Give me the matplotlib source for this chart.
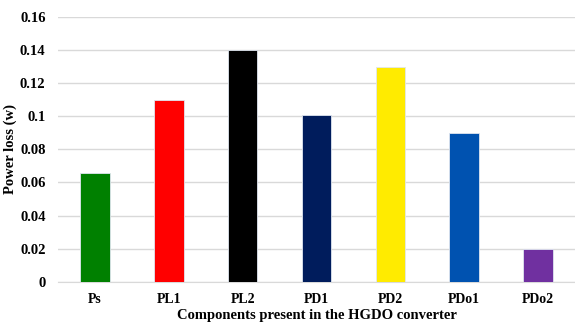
import matplotlib.pyplot as plt

# power loss of each component in the HGDO converter
components = ['Ps', 'PL1', 'PL2', 'PD1', 'PD2', 'PDo1', 'PDo2']
losses = [0.066, 0.11, 0.14, 0.101, 0.13, 0.09, 0.02]
colors = ['#008000', '#ff0000', '#000000', '#001c5c', '#ffeb00', '#0052b0', '#7030a0']

plt.rcParams['font.family'] = ['Liberation Serif', 'DejaVu Serif']
plt.rcParams['font.weight'] = 'bold'

fig = plt.figure(figsize=(5.75, 3.24), dpi=100)
ax = fig.add_axes([0.101, 0.13, 0.899, 0.818])

ax.bar(range(len(components)), losses, width=0.4, color=colors,
       edgecolor='#dfe6f0', linewidth=0.6, zorder=3)

ax.set_xlim(-0.5, len(components) - 0.5)
ax.set_ylim(0, 0.16)
ax.set_yticks([0, 0.02, 0.04, 0.06, 0.08, 0.1, 0.12, 0.14, 0.16])
ax.set_yticklabels(['0', '0.02', '0.04', '0.06', '0.08', '0.1', '0.12', '0.14', '0.16'],
                   fontsize=10.5, fontweight='bold')
ax.set_xticks(range(len(components)))
ax.set_xticklabels(components, fontsize=10, fontweight='bold')
ax.tick_params(axis='both', length=0, pad=8)
ax.tick_params(axis='y', pad=9)

ax.grid(axis='y', color='#d9d9d9', linewidth=1, zorder=0)
for side in ['top', 'right', 'left']:
    ax.spines[side].set_visible(False)
ax.spines['bottom'].set_color('#d9d9d9')

ax.set_xlabel('Components present in the HGDO converter', fontsize=10.5,
              fontweight='bold', labelpad=2)
ax.set_ylabel('Power loss (w)', fontsize=10.5, fontweight='bold', labelpad=2)

fig.savefig('out.png', dpi=100)
